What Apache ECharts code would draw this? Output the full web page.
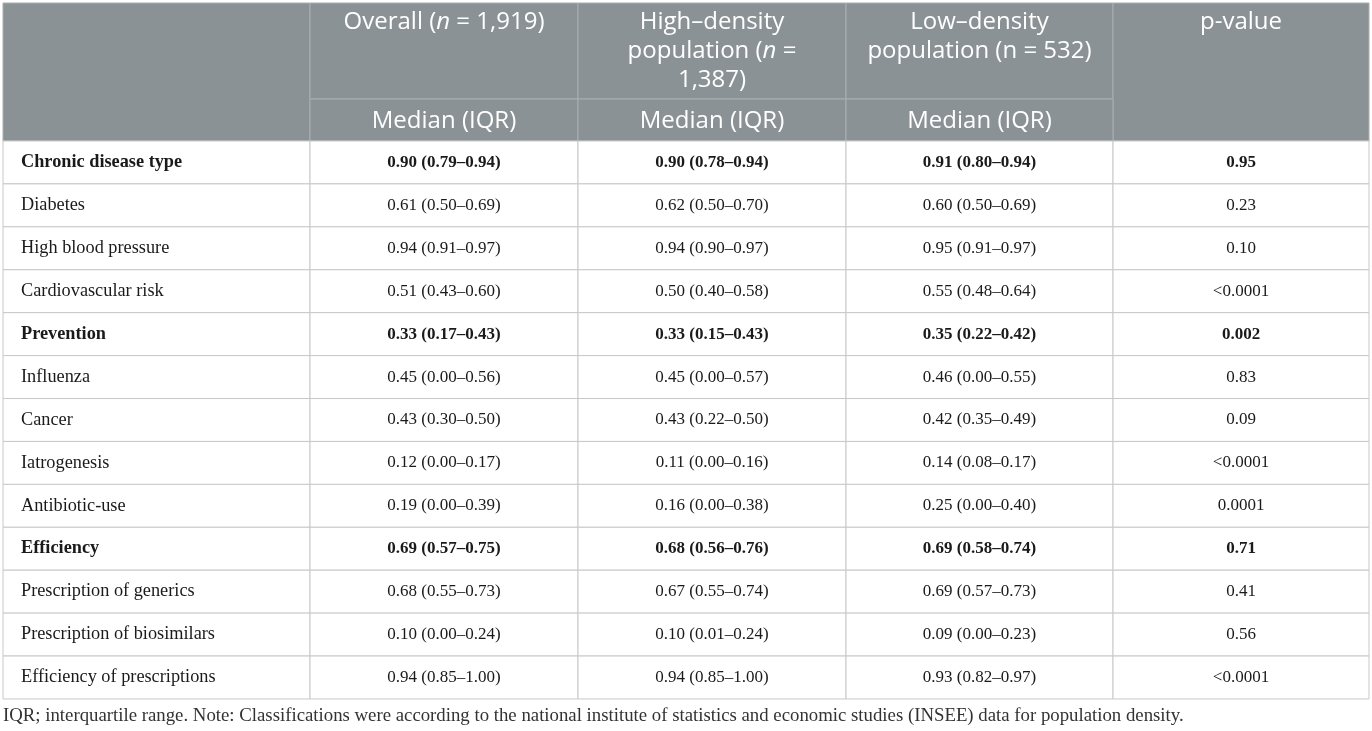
<!DOCTYPE html>
<html>
<head>
<meta charset="utf-8">
<script src="https://cdn.jsdelivr.net/npm/echarts@6/dist/echarts.min.js"></script>
<style>
html, body { margin: 0; padding: 0; background: #fff; }
#main { width: 1372px; height: 731px; }
</style>
</head>
<body>
<div id="main"></div>
<script>
// table content
var headerTitles = [
	'',
	'Overall ({i|n} = 1,919)',
	'High\u2013density\npopulation ({i|n} =\n1,387)',
	'Low\u2013density\npopulation (n = 532)',
	'p-value'
];
var subHeader = 'Median (IQR)';
var rowLabels = [
	'Chronic disease type', 'Diabetes', 'High blood pressure', 'Cardiovascular risk',
	'Prevention', 'Influenza', 'Cancer', 'Iatrogenesis', 'Antibiotic-use',
	'Efficiency', 'Prescription of generics', 'Prescription of biosimilars', 'Efficiency of prescriptions'
];
var overall = [
	'0.90 (0.79\u20130.94)', '0.61 (0.50\u20130.69)', '0.94 (0.91\u20130.97)', '0.51 (0.43\u20130.60)',
	'0.33 (0.17\u20130.43)', '0.45 (0.00\u20130.56)', '0.43 (0.30\u20130.50)', '0.12 (0.00\u20130.17)', '0.19 (0.00\u20130.39)',
	'0.69 (0.57\u20130.75)', '0.68 (0.55\u20130.73)', '0.10 (0.00\u20130.24)', '0.94 (0.85\u20131.00)'
];
var highDensity = [
	'0.90 (0.78\u20130.94)', '0.62 (0.50\u20130.70)', '0.94 (0.90\u20130.97)', '0.50 (0.40\u20130.58)',
	'0.33 (0.15\u20130.43)', '0.45 (0.00\u20130.57)', '0.43 (0.22\u20130.50)', '0.11 (0.00\u20130.16)', '0.16 (0.00\u20130.38)',
	'0.68 (0.56\u20130.76)', '0.67 (0.55\u20130.74)', '0.10 (0.01\u20130.24)', '0.94 (0.85\u20131.00)'
];
var lowDensity = [
	'0.91 (0.80\u20130.94)', '0.60 (0.50\u20130.69)', '0.95 (0.91\u20130.97)', '0.55 (0.48\u20130.64)',
	'0.35 (0.22\u20130.42)', '0.46 (0.00\u20130.55)', '0.42 (0.35\u20130.49)', '0.14 (0.08\u20130.17)', '0.25 (0.00\u20130.40)',
	'0.69 (0.58\u20130.74)', '0.69 (0.57\u20130.73)', '0.09 (0.00\u20130.23)', '0.93 (0.82\u20130.97)'
];
var pValues = [
	'0.95', '0.23', '0.10', '<0.0001',
	'0.002', '0.83', '0.09', '<0.0001', '0.0001',
	'0.71', '0.41', '0.56', '<0.0001'
];
var groupRows = ['Chronic disease type', 'Prevention', 'Efficiency'];
var footnote = 'IQR; interquartile range. Note: Classifications were according to the national institute of statistics and economic studies (INSEE) data for population density.';

// layout (axis units = pixels inside the grid)
var colEdges = [0, 307, 575, 843, 1110, 1366];
var headRow1 = 96, headRow2 = 138, rowH = 42.92;

var headFont = '"Open Sans", "Noto Sans", sans-serif';
var bodyFont = '"Liberation Serif", "DejaVu Serif", serif';

// build cells
var cells = [];
// header row 1
headerTitles.forEach(function (t, c) {
	var span = (c === 0 || c === 4);
	cells.push({ value: [colEdges[c], 0, colEdges[c + 1], span ? headRow2 : headRow1], text: t, kind: 'head' });
});
// header row 2
for (var c = 1; c <= 3; c++) {
	cells.push({ value: [colEdges[c], headRow1, colEdges[c + 1], headRow2], text: subHeader, kind: 'sub' });
}
// body
var bodyCols = [rowLabels, overall, highDensity, lowDensity, pValues];
rowLabels.forEach(function (label, r) {
	var bold = groupRows.indexOf(label) >= 0;
	bodyCols.forEach(function (col, c) {
		cells.push({
			value: [colEdges[c], headRow2 + r * rowH, colEdges[c + 1], headRow2 + (r + 1) * rowH],
			text: col[r], kind: c === 0 ? 'label' : 'body', bold: bold
		});
	});
});

function renderCell(params, api) {
	var cell = cells[params.dataIndex];
	var p0 = api.coord([api.value(0), api.value(1)]);
	var p1 = api.coord([api.value(2), api.value(3)]);
	var w = p1[0] - p0[0], h = p1[1] - p0[1];
	var head = cell.kind === 'head' || cell.kind === 'sub';
	var rect = {
		type: 'rect',
		shape: { x: p0[0], y: p0[1], width: w, height: h },
		style: {
			fill: head ? '#8b9295' : '#fff',
			stroke: head ? '#a9aeb1' : '#c8c8c8',
			lineWidth: 1
		}
	};
	var txt;
	if (cell.kind === 'head') {
		txt = {
			type: 'text',
			x: p0[0] + w / 2, y: p0[1] + 5,
			style: {
				text: cell.text, fill: '#fff', align: 'center', verticalAlign: 'top',
				fontFamily: headFont, fontSize: 24, lineHeight: 29,
				rich: { i: { fontFamily: headFont, fontSize: 24, fontStyle: 'italic', fill: '#fff', lineHeight: 29 } }
			}
		};
	} else if (cell.kind === 'sub') {
		txt = {
			type: 'text',
			x: p0[0] + w / 2, y: p0[1] + h / 2 + 1,
			style: {
				text: cell.text, fill: '#fff', align: 'center', verticalAlign: 'middle',
				fontFamily: headFont, fontSize: 24
			}
		};
	} else {
		var left = cell.kind === 'label';
		txt = {
			type: 'text',
			x: left ? p0[0] + 18 : p0[0] + w / 2, y: p0[1] + h / 2,
			style: {
				text: cell.text, fill: '#1a1a1a',
				align: left ? 'left' : 'center', verticalAlign: 'middle',
				fontFamily: bodyFont, fontSize: left ? 18.3 : 17, fontWeight: cell.bold ? 'bold' : 'normal'
			}
		};
	}
	return { type: 'group', children: [rect, txt] };
}

var chart = echarts.init(document.getElementById('main'), null, { renderer: 'canvas' });
var option = {
	backgroundColor: '#fff',
	animation: false,
	title: {
		text: footnote,
		left: -2, top: 702,
		textStyle: { fontFamily: bodyFont, fontSize: 18.8, fontWeight: 'normal', color: '#333' }
	},
	grid: { left: 3, top: 3, width: 1366, height: 696 },
	xAxis: { type: 'value', min: 0, max: 1366, show: false },
	yAxis: { type: 'value', min: 0, max: 696, inverse: true, show: false },
	series: [{
		type: 'custom',
		coordinateSystem: 'cartesian2d',
		renderItem: renderCell,
		encode: { x: [0, 2], y: [1, 3] },
		data: cells.map(function (d) { return d.value; }),
		silent: true
	}]
};
chart.setOption(option);
</script>
</body>
</html>
